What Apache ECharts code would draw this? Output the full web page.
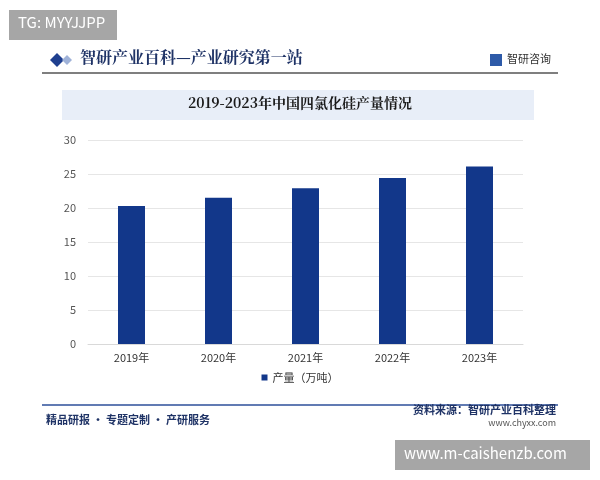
<!DOCTYPE html>
<html><head><meta charset="utf-8">
<script src="https://cdn.jsdelivr.net/npm/echarts@6/dist/echarts.min.js"></script>
<style>body{margin:0}#c{width:600px;height:480px}</style></head>
<body><div id="c"></div>
<script>
const categories=['2019年','2020年','2021年','2022年','2023年'];
const values=[20.3,21.5,22.9,24.4,26.1];
const seriesName='产量（万吨）';
const F='"Noto Sans CJK SC",sans-serif';
const chart=echarts.init(document.getElementById('c'));
chart.setOption({
 backgroundColor:'#fff',
 animation:false,
 graphic:[
  {type:'rect',shape:{x:9,y:10,width:108,height:30},style:{fill:'#a6a6a6'}},
  {type:'text',left:18,top:15,style:{text:'TG: MYYJJPP',fill:'#fff',font:'15px '+F}},
  {type:'polygon',shape:{points:[[50,60],[57,53],[64,60],[57,67]]},style:{fill:'#1f3f8f'}},
  {type:'polygon',shape:{points:[[62,60],[67,55],[72,60],[67,65]]},style:{fill:'#9fb2d8'}},
  {type:'text',left:80,top:49,style:{text:'智研产业百科—产业研究第一站',fill:'#1f3366',font:'bold 16px "Noto Serif CJK SC",'+F}},
  {type:'text',left:507,top:53,style:{text:'智研咨询',fill:'#333',font:'11px '+F}},
  {type:'rect',shape:{x:490,y:54,width:12,height:12},style:{fill:'#2d5aa8'}},
  {type:'line',shape:{x1:42,y1:73,x2:558,y2:73},style:{stroke:'#555',lineWidth:1.5}},
  {type:'rect',shape:{x:62,y:90,width:472,height:30},style:{fill:'#e8eef8'}},
  {type:'text',left:'center',top:96,style:{text:'2019-2023年中国四氯化硅产量情况',fill:'#1a1a1a',font:'bold 14px "Noto Serif CJK SC",'+F}},
  {type:'line',shape:{x1:42,y1:405,x2:558,y2:405},style:{stroke:'#2d4f9a',lineWidth:1.5}},
  {type:'text',left:46,top:414,style:{text:'精品研报 · 专题定制 · 产研服务',fill:'#1f3366',font:'bold 11px '+F}},
  {type:'text',right:44,top:404,style:{text:'资料来源：智研产业百科整理',fill:'#1f3366',font:'bold 11px '+F,align:'right'}},
  {type:'text',right:44,top:418,style:{text:'www.chyxx.com',fill:'#555',font:'9px '+F,align:'right'}},
  {type:'rect',shape:{x:395,y:440,width:195,height:30},style:{fill:'#a6a6a6'}},
  {type:'text',left:404,top:446,style:{text:'www.m-caishenzb.com',fill:'#fff',font:'15px '+F}}
 ],
 grid:{left:88,right:77,top:140,bottom:136},
 legend:{bottom:92,itemWidth:6,itemHeight:6,icon:'rect',textStyle:{fontSize:11,color:'#333',fontFamily:F},data:[seriesName]},
 xAxis:{type:'category',data:categories,axisLine:{lineStyle:{color:'#d9d9d9'}},axisTick:{show:false},axisLabel:{color:'#333',fontSize:11,fontFamily:F,margin:8}},
 yAxis:{type:'value',min:0,max:30,interval:5,axisLine:{show:false},axisTick:{show:false},splitLine:{lineStyle:{color:'#e6e6e6'}},axisLabel:{color:'#555',fontSize:11,fontFamily:F,margin:12}},
 series:[{name:seriesName,type:'bar',data:values,barWidth:27,itemStyle:{color:'#12378a'}}]
});
</script></body></html>
